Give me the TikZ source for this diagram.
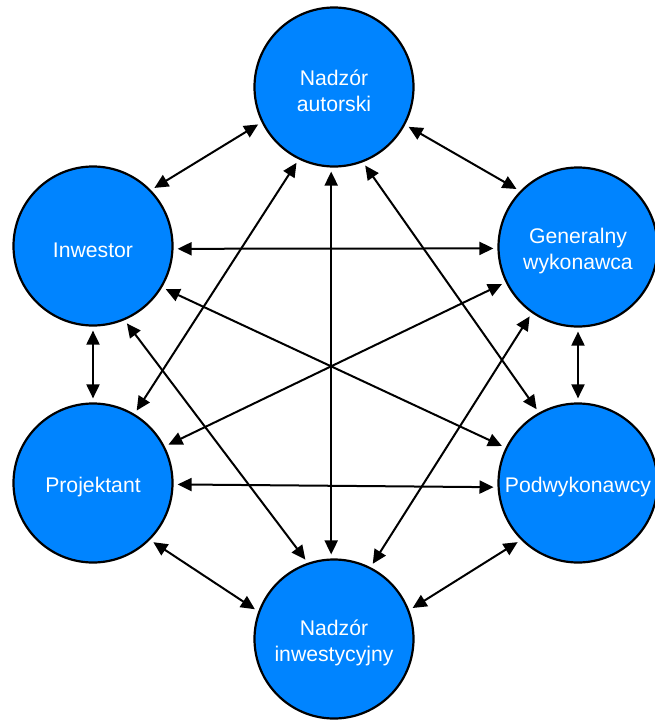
\documentclass[tikz,border=0pt]{standalone}
\usepackage{fontspec}
\setmainfont{Liberation Sans}
\usetikzlibrary{arrows.meta}
\definecolor{roleblue}{RGB}{0,132,255}
\begin{document}
\begin{tikzpicture}[x=1pt,y=-1pt,
  role/.style={circle, draw=black, line width=2.2pt, fill=roleblue,
    minimum size=159pt, inner sep=0pt},
  roletext/.style={align=center, text=white, inner sep=0pt, yshift=-4pt,
    font=\fontsize{21.2}{26}\selectfont},
  link/.style={line width=2pt,
    {Triangle[length=14pt,width=13pt]}-{Triangle[length=14pt,width=13pt]},
    shorten <=4pt, shorten >=4pt}]
\useasboundingbox (0,0) rectangle (654,720);

% participants of the construction process
\node[role] (aut) at (334,87)  {};
\node[role] (inw) at (93,246)  {};
\node[role] (gen) at (578,247) {};
\node[role] (pro) at (93,483)  {};
\node[role] (pod) at (578,483) {};
\node[role] (ins) at (334,639) {};

\node[roletext] (aut-t) at (aut) {Nadzór\\autorski};
\node[roletext] (inw-t) at (inw) {Inwestor};
\node[roletext] (gen-t) at (gen) {Generalny\\wykonawca};
\node[roletext] (pro-t) at (pro) {Projektant};
\node[roletext] (pod-t) at (pod) {Podwykonawcy};
\node[roletext] (ins-t) at (ins) {Nadzór\\inwestycyjny};

% every pair communicates both ways
\draw[link] (aut.206) -- (inw.44);
\draw[link] (aut.-28) -- (gen.136);
\draw[link] (aut.244) -- (pro.59);
\draw[link] (aut.268) -- (ins.92);
\draw[link] (aut.291) -- (pod.119);
\draw[link] (inw.-2)  -- (gen.181);
\draw[link] (inw.270) -- (pro.90);
\draw[link] (inw.-31) -- (pod.154);
\draw[link] (inw.-67) -- (ins.109);
\draw[link] (gen.206) -- (pro.27);
\draw[link] (gen.270) -- (pod.90);
\draw[link] (gen.235) -- (ins.63);
\draw[link] (pro.-1)  -- (pod.183);
\draw[link] (pro.-45) -- (ins.160);
\draw[link] (pod.225) -- (ins.21);
\end{tikzpicture}
\end{document}
